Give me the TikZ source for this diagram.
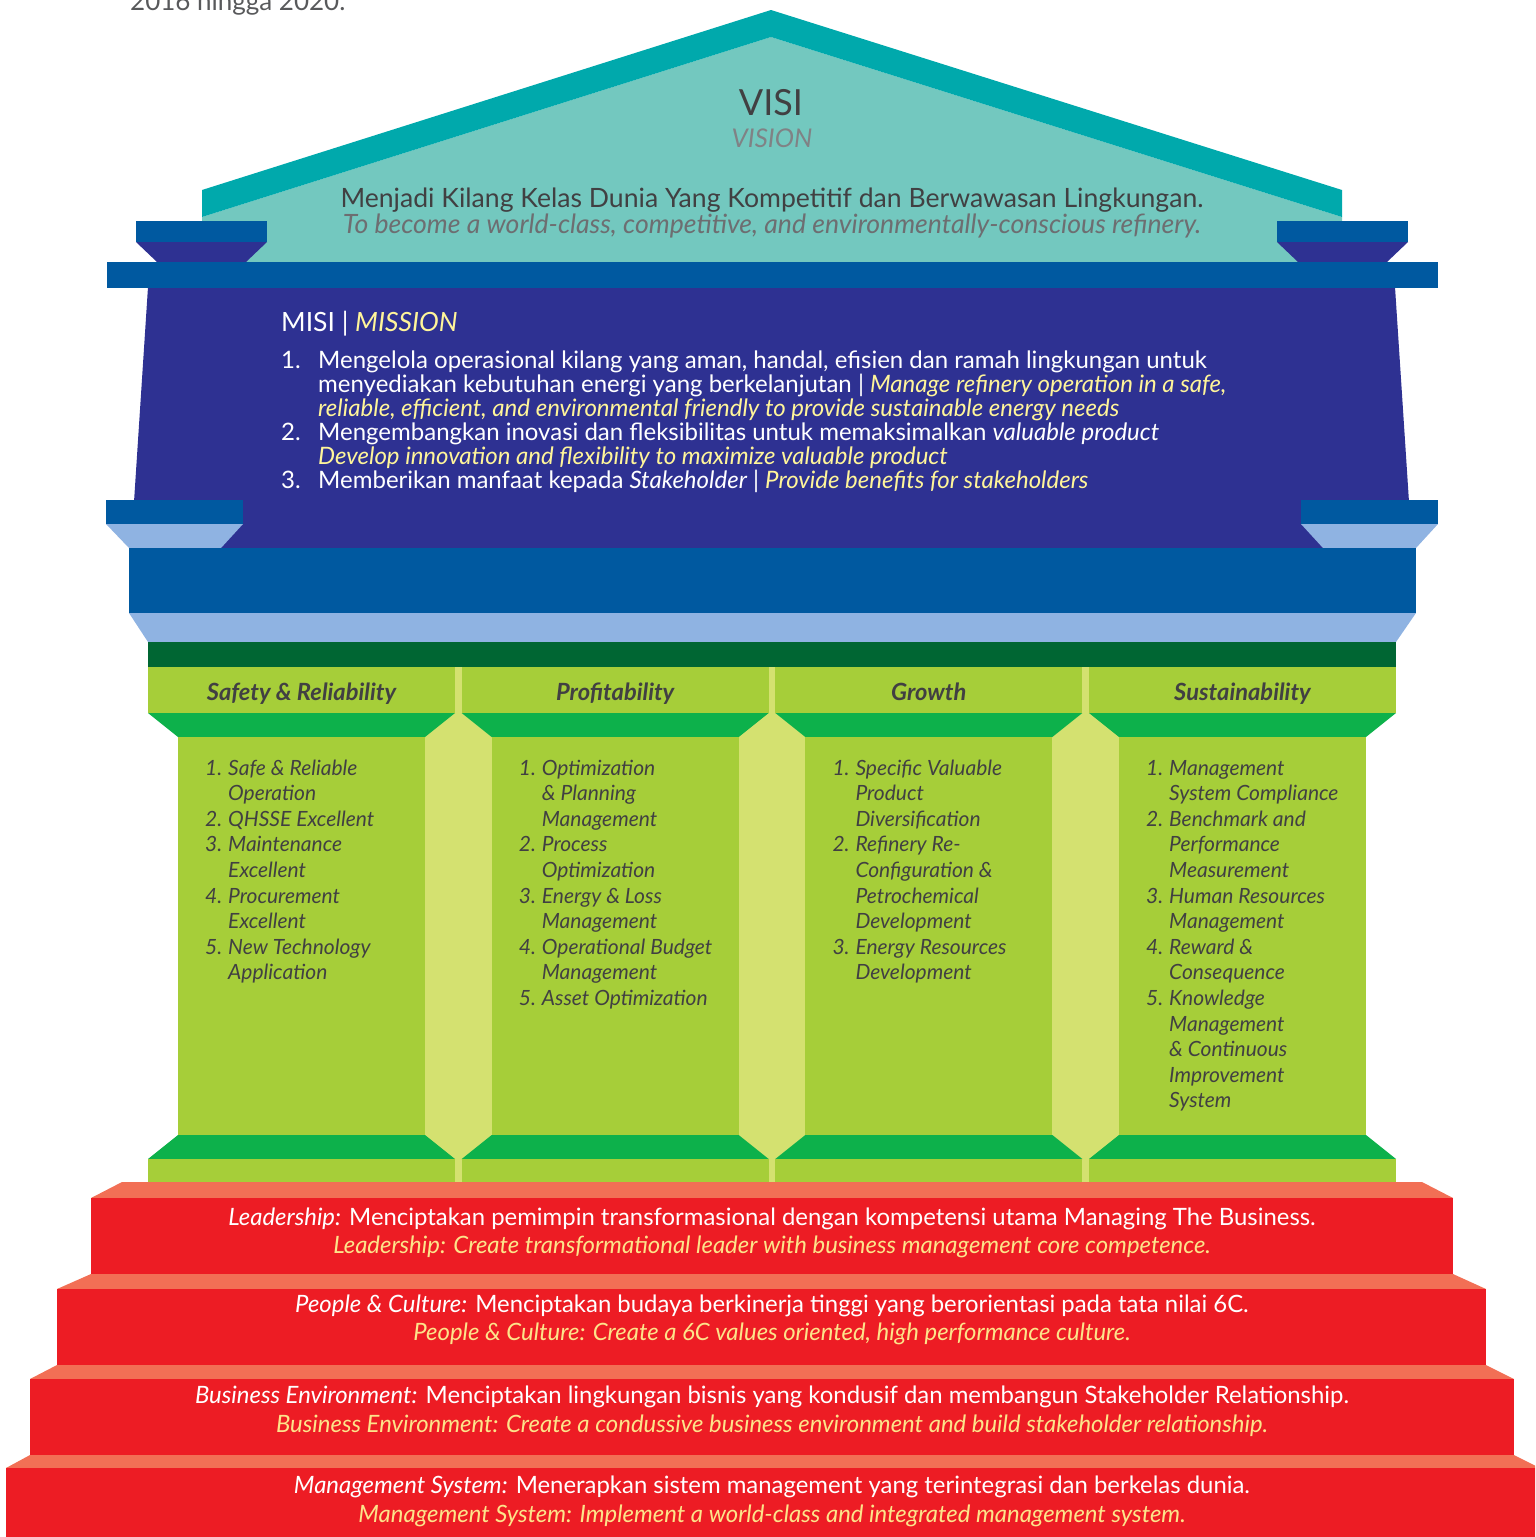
\documentclass[tikz,border=0pt]{standalone}
\usepackage{fontspec}
\setmainfont{Lato}
\newcommand{\setfs}[1]{\fontsize{#1pt}{#1pt}\selectfont}
\definecolor{tealdark}{HTML}{00A9AC}
\definecolor{teallight}{HTML}{73C8BF}
\definecolor{bluedark}{HTML}{0059A0}
\definecolor{purp}{HTML}{2E3192}
\definecolor{bluelight}{HTML}{8FB3E2}
\definecolor{greendark}{HTML}{006633}
\definecolor{greenlight}{HTML}{A6CE39}
\definecolor{greenmid}{HTML}{0DB14B}
\definecolor{greenpale}{HTML}{D4E170}
\definecolor{redstep}{HTML}{ED1C24}
\definecolor{salmon}{HTML}{F26F55}
\definecolor{txtdark}{HTML}{414042}
\definecolor{txtgray}{HTML}{808285}
\definecolor{txtgray2}{HTML}{6D6E71}
\definecolor{toptxt}{HTML}{58595B}
\definecolor{yelm}{HTML}{FFF59A}
\definecolor{yels}{HTML}{FDE48A}
\begin{document}
\begin{tikzpicture}[x=1pt,y=-1pt,
  txt/.style={inner sep=0pt,anchor=base},
  txtw/.style={inner sep=0pt,anchor=base west},
  misline/.style={txtw,font=\setfs{24},text=white},
  misyel/.style={txtw,font=\setfs{24}\itshape,text=yelm},
  colhead/.style={txt,font=\setfs{23.7}\bfseries\itshape,text=txtdark},
  colitem/.style={txtw,font=\setfs{21}\itshape,text=txtdark},
  stepline/.style={txt,font=\setfs{23.9},text=white},
  stepline2/.style={txt,font=\setfs{23.9}\itshape,text=yels}]
\useasboundingbox (0,0) rectangle (1535,1537);
\clip (0,0) rectangle (1535,1537);

% clipped top text
\node[txtw,font=\setfs{26},text=toptxt] (toptext) at (130,10) {2016 hingga 2020.};

% roof
\fill[teallight] (202,217) -- (771,37) -- (1342,217) -- (1342,262) -- (202,262) -- cycle;
\fill[tealdark] (202,190) -- (771,10) -- (1342,190) -- (1342,217) -- (771,37) -- (202,217) -- cycle;

% upper capitals
\fill[bluedark] (136,221) rectangle (267,242);
\fill[purp] (136,242) -- (267,242) -- (246,262) -- (157,262) -- cycle;
\fill[bluedark] (1277,221) rectangle (1408,242);
\fill[purp] (1277,242) -- (1408,242) -- (1387,262) -- (1298,262) -- cycle;

% purple body
\fill[purp] (148,287) -- (1395,287) -- (1412,548) -- (131,548) -- cycle;
\fill[bluedark] (107,262) rectangle (1438,288);

% lower capitals
\fill[bluedark] (106,500) rectangle (243,524);
\fill[bluelight] (106,524) -- (243,524) -- (221,548) -- (129,548) -- cycle;
\fill[bluedark] (1301,500) rectangle (1438,524);
\fill[bluelight] (1301,524) -- (1438,524) -- (1416,548) -- (1323,548) -- cycle;

% big blue band + light trapezoid + dark green
\fill[bluedark] (129,548) rectangle (1416,613);
\fill[bluelight] (129,613) -- (1416,613) -- (1396,642) -- (148,642) -- cycle;
\fill[greendark] (148,642) rectangle (1396,667);

% pale strips between columns
\foreach \i in {0,1,2}{
  \pgfmathsetmacro\xl{148+\i*313.67}
  \fill[greenpale] (\xl+277,667) rectangle (\xl+313.67+30,1183);
}
% columns
\foreach \i in {0,1,2,3}{
  \pgfmathsetmacro\xl{148+\i*313.67}
  \fill[greenlight] (\xl,667) rectangle (\xl+307,713);
  \fill[greenmid] (\xl,713) -- (\xl+307,713) -- (\xl+277,737) -- (\xl+30,737) -- cycle;
  \fill[greenlight] (\xl+30,737) rectangle (\xl+277,1135);
  \fill[greenmid] (\xl+30,1135) -- (\xl+277,1135) -- (\xl+307,1159) -- (\xl,1159) -- cycle;
  \fill[greenlight] (\xl,1159) rectangle (\xl+307,1183);
}

% steps
\fill[salmon] (122,1182) -- (1422,1182) -- (1453,1198) -- (91,1198) -- cycle;
\fill[redstep] (91,1198) rectangle (1453,1274);
\fill[salmon] (91,1274) -- (1453,1274) -- (1486,1289) -- (57,1289) -- cycle;
\fill[redstep] (57,1289) rectangle (1486,1365);
\fill[salmon] (57,1365) -- (1486,1365) -- (1514,1379) -- (30,1379) -- cycle;
\fill[redstep] (30,1379) rectangle (1514,1455);
\fill[salmon] (30,1455) -- (1514,1455) -- (1540,1468) -- (6,1468) -- cycle;
\fill[redstep] (6,1468) rectangle (1540,1540);

% vision texts
\node[txt,font=\setfs{36},text=txtdark] (visi) at (771,115) {VISI};
\node[txt,font=\setfs{25.8}\itshape,text=txtgray] (vision) at (772,147) {VISION};
\node[txt,font=\setfs{26.6},text=txtdark] (visiid) at (772,207) {Menjadi Kilang Kelas Dunia Yang Kompetitif dan Berwawasan Lingkungan.};
\node[txt,font=\setfs{26.6}\itshape,text=txtgray2] (visien) at (772,233) {To become a world-class, competitive, and environmentally-conscious refinery.};

% mission texts
\node[txtw,font=\setfs{26.5},text=white] (misi) at (281,331) {MISI | \textcolor{yelm}{\itshape MISSION}};
\node[misline] (m1n) at (281,368) {1.};
\node[misline] (m1a) at (318,368) {Mengelola operasional kilang yang aman, handal, efisien dan ramah lingkungan untuk};
\node[misline] (m1b) at (318,392) {menyediakan kebutuhan energi yang berkelanjutan | \textcolor{yelm}{\itshape Manage refinery operation in a safe,}};
\node[misyel] (m1c) at (318,416) {reliable, efficient, and environmental friendly to provide sustainable energy needs};
\node[misline] (m2n) at (281,440) {2.};
\node[misline] (m2a) at (318,440) {Mengembangkan inovasi dan fleksibilitas untuk memaksimalkan {\itshape valuable product}};
\node[misyel] (m2b) at (318,464) {Develop innovation and flexibility to maximize valuable product};
\node[misline] (m3n) at (281,488) {3.};
\node[misline] (m3a) at (318,488) {Memberikan manfaat kepada {\itshape Stakeholder} | \textcolor{yelm}{\itshape Provide benefits for stakeholders}};

% column headers
\node[colhead] (h1) at (301.5,700) {Safety \& Reliability};
\node[colhead] (h2) at (615.2,700) {Profitability};
\node[colhead] (h3) at (928.8,700) {Growth};
\node[colhead] (h4) at (1242.5,700) {Sustainability};

% column 1 items
\foreach \t [count=\k from 0] in {Safe \& Reliable,Operation,QHSSE Excellent,Maintenance,Excellent,Procurement,Excellent,New Technology,Application}
  \node[colitem] (ca\k) at (228,775+25.6*\k) {\t};
\foreach \n/\k in {1/0,2/2,3/3,4/5,5/7}
  \node[colitem] (cna\n) at (205,775+25.6*\k) {\n.};
% column 2 items
\foreach \t [count=\k from 0] in {Optimization,\& Planning,Management,Process,Optimization,Energy \& Loss,Management,Operational Budget,Management,Asset Optimization}
  \node[colitem] (cb\k) at (541.7,775+25.6*\k) {\t};
\foreach \n/\k in {1/0,2/3,3/5,4/7,5/9}
  \node[colitem] (cnb\n) at (518.7,775+25.6*\k) {\n.};
% column 3 items
\foreach \t [count=\k from 0] in {Specific Valuable,Product,Diversification,Refinery Re-,Configuration \&,Petrochemical,Development,Energy Resources,Development}
  \node[colitem] (cc\k) at (855.3,775+25.6*\k) {\t};
\foreach \n/\k in {1/0,2/3,3/7}
  \node[colitem] (cnc\n) at (832.3,775+25.6*\k) {\n.};
% column 4 items
\foreach \t [count=\k from 0] in {Management,System Compliance,Benchmark and,Performance,Measurement,Human Resources,Management,Reward \&,Consequence,Knowledge,Management,\& Continuous,Improvement,System}
  \node[colitem] (cd\k) at (1169,775+25.6*\k) {\t};
\foreach \n/\k in {1/0,2/2,3/5,4/7,5/9}
  \node[colitem] (cnd\n) at (1146,775+25.6*\k) {\n.};

% step texts
\node[stepline] (s1a) at (772,1225) {{\itshape Leadership:} Menciptakan pemimpin transformasional dengan kompetensi utama Managing The Business.};
\node[stepline2] (s1b) at (772,1253) {Leadership: Create transformational leader with business management core competence.};
\node[stepline] (s2a) at (772,1312) {{\itshape People \& Culture:} Menciptakan budaya berkinerja tinggi yang berorientasi pada tata nilai 6C.};
\node[stepline2] (s2b) at (772,1340) {People \& Culture: Create a 6C values oriented, high performance culture.};
\node[stepline] (s3a) at (772,1403) {{\itshape Business Environment:} Menciptakan lingkungan bisnis yang kondusif dan membangun Stakeholder Relationship.};
\node[stepline2] (s3b) at (772,1432) {Business Environment: Create a condussive business environment and build stakeholder relationship.};
\node[stepline] (s4a) at (772,1493) {{\itshape Management System:} Menerapkan sistem management yang terintegrasi dan berkelas dunia.};
\node[stepline2] (s4b) at (772,1522) {Management System: Implement a world-class and integrated management system.};
\end{tikzpicture}
\end{document}
